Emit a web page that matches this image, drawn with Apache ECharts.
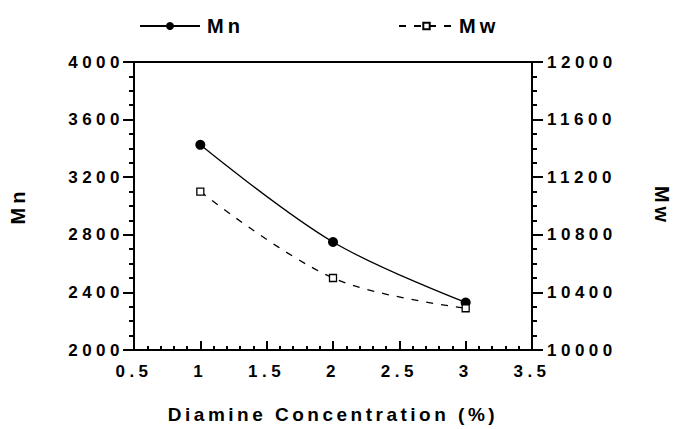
<!DOCTYPE html>
<html>
<head>
<meta charset="utf-8">
<script src="https://cdn.jsdelivr.net/npm/echarts@6/dist/echarts.min.js"></script>
<style>
  html, body { margin: 0; padding: 0; background: #fff; }
  #chart { width: 680px; height: 429px; }
  /* the scanned figure uses widely tracked bold type */
  #chart text { letter-spacing: 4px; }
  #chart text[style*="17px"] { letter-spacing: 4.5px; }
  #chart text[style*="19px"] { letter-spacing: 3.5px; }
  #chart text[style*="20px"] { letter-spacing: 4px; }
</style>
</head>
<body>
<div id="chart"></div>
<script>
// Diamine concentration (%) vs molecular weight averages
const concentration = [1, 2, 3];
const mnValues = [3425, 2750, 2330];     // left axis
const mwValues = [11100, 10500, 10290];  // right axis
const mnTicks = { min: 2000, max: 4000, interval: 400 };
const mwTicks = { min: 10000, max: 12000, interval: 400 };
const xTicks = { min: 0.5, max: 3.5, interval: 0.5 };

const FONT = '"Liberation Sans", Arial, sans-serif';
const INK = '#000';

const pairs = (xs, ys) => xs.map((x, i) => [x, ys[i]]);
const plain = (v) => String(v); // no thousands separators

const tickLabel = { color: INK, fontFamily: FONT, fontWeight: 'bold', fontSize: 17, formatter: plain };
const bigText = { color: INK, fontFamily: FONT, fontWeight: 'bold', fontSize: 19 };

function yAxis(name, ticks, side) {
  const left = side === 'left';
  return {
    type: 'value',
    position: side,
    min: ticks.min, max: ticks.max, interval: ticks.interval,
    name,
    nameLocation: 'middle',
    nameGap: left ? 106 : 120,
    nameRotate: left ? 90 : -90,
    nameTextStyle: { ...bigText, fontSize: 20 },
    axisLine: { show: true, lineStyle: { color: INK, width: 2 } },
    axisTick: { show: true, inside: false, length: 11, lineStyle: { color: INK, width: 2 } },
    minorTick: { show: true, splitNumber: 4, length: 5, lineStyle: { color: INK, width: 2 } },
    axisLabel: { ...tickLabel, margin: left ? 10 : 15 },
    splitLine: { show: false },
  };
}

const chart = echarts.init(document.getElementById('chart'), null, { renderer: 'svg' });

chart.setOption({
  animation: false,
  backgroundColor: '#fff',
  grid: {
    left: 133, right: 136, top: 62, bottom: 64,
    show: true, borderColor: INK, borderWidth: 2,
  },
  legend: [
    {
      data: ['Mn'], left: 134, top: 11,
      itemWidth: 60, itemHeight: 10, itemGap: 0,
      textStyle: { ...bigText, fontSize: 20, padding: [0, 0, 0, 2] },
    },
    {
      data: ['Mw'], left: 393, top: 11,
      itemWidth: 55, itemHeight: 8, itemGap: 0,
      textStyle: { ...bigText, fontSize: 20 },
    },
  ],
  xAxis: {
    type: 'value',
    min: xTicks.min, max: xTicks.max, interval: xTicks.interval,
    name: 'Diamine Concentration (%)',
    nameLocation: 'middle',
    nameGap: 55,
    nameTextStyle: bigText,
    axisLine: { show: true, lineStyle: { color: INK, width: 2 } },
    axisTick: { show: true, inside: true, length: 9, lineStyle: { color: INK, width: 2 } },
    minorTick: { show: true, splitNumber: 5, length: 4, lineStyle: { color: INK, width: 2 } },
    axisLabel: { ...tickLabel, margin: 13 },
    splitLine: { show: false },
  },
  yAxis: [yAxis('Mn', mnTicks, 'left'), yAxis('Mw', mwTicks, 'right')],
  series: [
    {
      name: 'Mn',
      type: 'line',
      yAxisIndex: 0,
      data: pairs(concentration, mnValues),
      smooth: 0.35,
      symbol: 'circle',
      symbolSize: 10,
      itemStyle: { color: INK },
      lineStyle: { color: INK, width: 1.3 },
    },
    {
      name: 'Mw',
      type: 'line',
      yAxisIndex: 1,
      data: pairs(concentration, mwValues),
      smooth: 0.35,
      symbol: 'rect',
      symbolSize: 7,
      itemStyle: { color: '#fff', borderColor: INK, borderWidth: 1.3 },
      lineStyle: { color: INK, width: 1.3, type: [7, 8] },
    },
  ],
});
</script>
</body>
</html>
